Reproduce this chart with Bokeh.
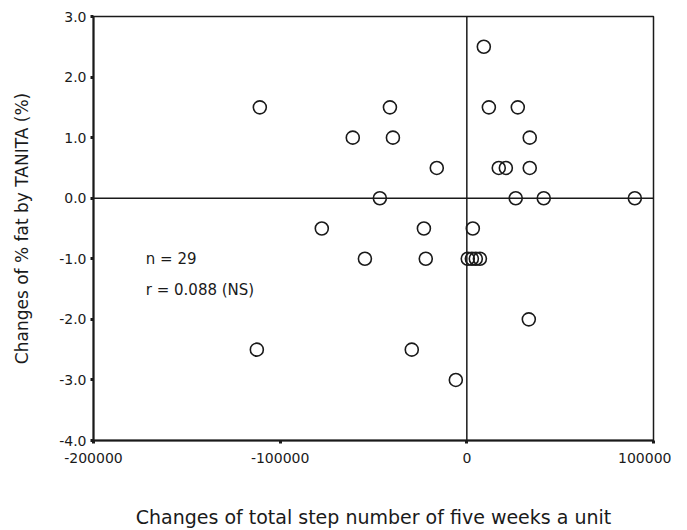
from bokeh.plotting import figure
from bokeh.models import Span, Label, FixedTicker, NumeralTickFormatter, Range1d
from bokeh.embed import file_html
from bokeh.resources import INLINE

# Data
steps = [9100, -110900, -41200, 11800, 27300, -61100, -39600, 33700, -16100, 17100,
         20900, 33700, -46600, 26200, 41200, 90000, -77700, -23000, 3200, -54600,
         -22000, 500, 2700, 4800, 7000, 33200, -112500, -29500, -5900]
fat = [2.5, 1.5, 1.5, 1.5, 1.5, 1.0, 1.0, 1.0, 0.5, 0.5,
       0.5, 0.5, 0.0, 0.0, 0.0, 0.0, -0.5, -0.5, -0.5, -1.0,
       -1.0, -1.0, -1.0, -1.0, -1.0, -2.0, -2.5, -2.5, -3.0]
x_ticks = [-200000, -100000, 0, 100000]
y_ticks = [-4.0, -3.0, -2.0, -1.0, 0.0, 1.0, 2.0, 3.0]
x_title = "Changes of total step number of five weeks a unit"
y_title = "Changes of % fat by TANITA (%)"
stats = ["n = 29", "r = 0.088 (NS)"]

FONT = "DejaVu Sans"
INK = "#1a1a1a"

p = figure(width=671, height=530, output_backend="svg", toolbar_location=None,
           x_range=Range1d(-200000, 100000), y_range=Range1d(-4.0, 3.0),
           min_border_left=93, min_border_right=18, min_border_top=16, min_border_bottom=90)
p.background_fill_color = "white"
p.border_fill_color = "white"
p.outline_line_color = INK
p.outline_line_width = 1.5
p.xgrid.visible = False
p.ygrid.visible = False

for ax in (p.xaxis[0], p.yaxis[0]):
    ax.axis_line_color = INK
    ax.axis_line_width = 2
    ax.major_tick_line_color = INK
    ax.major_tick_line_width = 3
    ax.major_tick_in = 0
    ax.major_tick_out = 3
    ax.minor_tick_line_color = None
    ax.major_label_text_font = FONT
    ax.major_label_text_font_size = "14px"
    ax.major_label_text_color = INK
    ax.axis_label_text_font = FONT
    ax.axis_label_text_font_style = "normal"
    ax.axis_label_text_color = INK

p.xaxis.ticker = FixedTicker(ticks=x_ticks)
p.xaxis.formatter = NumeralTickFormatter(format="0")
p.xaxis.major_label_standoff = 9
p.xaxis.axis_label = x_title
p.xaxis.axis_label_text_font_size = "19px"
p.xaxis.axis_label_standoff = 40

p.yaxis.ticker = FixedTicker(ticks=y_ticks)
p.yaxis.formatter = NumeralTickFormatter(format="0.0")
p.yaxis.major_label_standoff = 4
p.yaxis.axis_label = y_title
p.yaxis.axis_label_text_font_size = "17px"
p.yaxis.axis_label_standoff = 24

p.add_layout(Span(location=0, dimension="height", line_color=INK, line_width=1.5))
p.add_layout(Span(location=0, dimension="width", line_color=INK, line_width=1.5))

p.scatter(steps, fat, marker="circle", size=13, fill_color=None,
          line_color=INK, line_width=1.6)

p.add_layout(Label(x=-172000, y=-1.0, text=stats[0], text_font=FONT,
                   text_font_size="15px", text_color=INK, text_baseline="middle"))
p.add_layout(Label(x=-172000, y=-1.52, text=stats[1], text_font=FONT,
                   text_font_size="15px", text_color=INK, text_baseline="middle"))

open("out.html", "w").write(file_html(p, INLINE))
